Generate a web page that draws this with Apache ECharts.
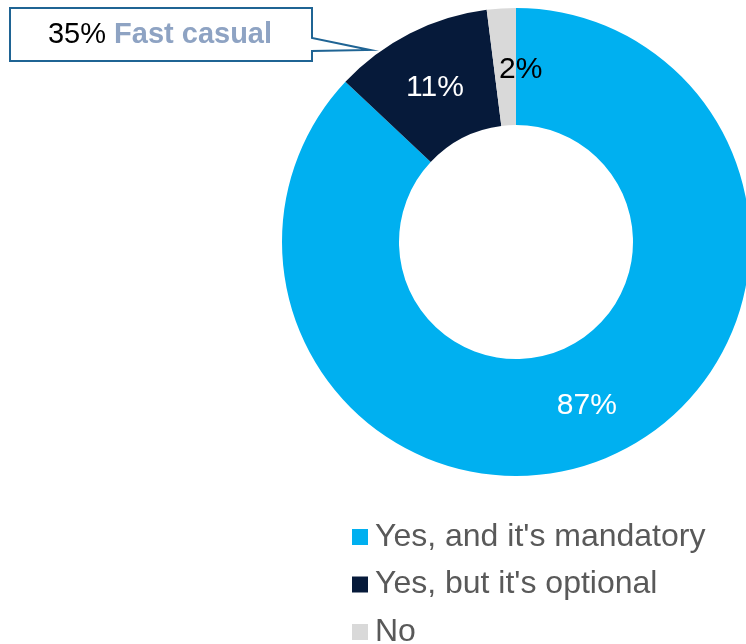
<!DOCTYPE html>
<html>
<head>
<meta charset="utf-8">
<script src="https://cdn.jsdelivr.net/npm/echarts@6/dist/echarts.min.js"></script>
<style>
html,body{margin:0;padding:0;background:#fff;}
#chart{width:746px;height:644px;}
</style>
</head>
<body>
<div id="chart"></div>
<script>
const categories = ["Yes, and it's mandatory", "Yes, but it's optional", "No"];
const values = [87, 11, 2];
const colors = ['#00b0f0', '#061a3a', '#d9d9d9'];
const labelColors = ['#ffffff', '#ffffff', '#000000'];
const calloutPct = '35%';
const calloutName = 'Fast casual';

const FONT = '"Liberation Sans", Arial, sans-serif';
const labelOffsets = [[0, 0], [0, 5], [16, 6]];
const chart = echarts.init(document.getElementById('chart'), null, {renderer: 'canvas'});

const data = categories.map((c, i) => ({
  name: c,
  value: values[i],
  itemStyle: {color: colors[i]},
  label: {color: labelColors[i], offset: labelOffsets[i]}
}));

chart.setOption({
  animation: false,
  backgroundColor: '#ffffff',
  legend: {
    orient: 'vertical',
    left: 352,
    top: 521,
    width: 390,
    height: 130,
    padding: 0,
    icon: 'rect',
    itemWidth: 16,
    itemHeight: 16,
    itemGap: 15.5,
    selectedMode: false,
    textStyle: {fontSize: 32, color: '#595959', fontFamily: FONT, padding: [0, 0, 0, 2]},
    data: categories
  },
  series: [{
    type: 'pie',
    center: [516, 242],
    radius: [117, 234],
    startAngle: 90,
    clockwise: true,
    avoidLabelOverlap: false,
    silent: true,
    label: {
      show: true,
      position: 'inside',
      formatter: '{c}%',
      fontSize: 30,
      fontFamily: FONT
    },
    labelLine: {show: false},
    data: data
  }],
  graphic: [
    {
      type: 'polygon',
      shape: {points: [[10, 8], [312, 8], [312, 38], [370, 50], [312, 51], [312, 61], [10, 61]]},
      style: {fill: '#ffffff', stroke: '#1f6494', lineWidth: 2}
    },
    {
      type: 'text',
      x: 160,
      y: 35,
      style: {
        text: '{a|' + calloutPct + '} {b|' + calloutName + '}',
        align: 'center',
        verticalAlign: 'middle',
        font: '29px ' + FONT,
        rich: {
          a: {fontSize: 29, fill: '#000000', color: '#000000', fontFamily: FONT},
          b: {fontSize: 29, fill: '#8ea3c3', color: '#8ea3c3', fontWeight: 'bold', fontFamily: FONT}
        }
      }
    }
  ]
});
</script>
</body>
</html>
